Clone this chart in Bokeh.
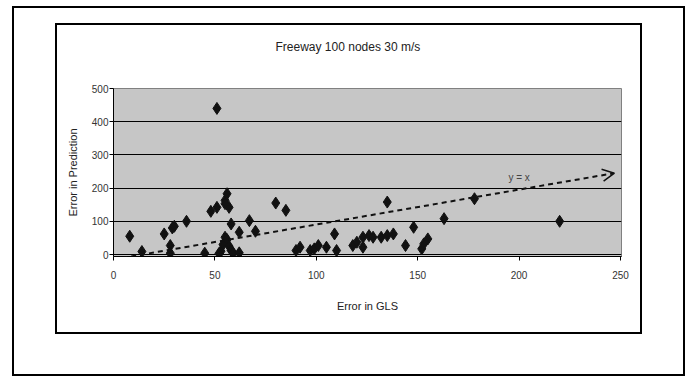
from bokeh.plotting import figure
from bokeh.models import Range1d, Label, Arrow, OpenHead, FixedTicker, ColumnDataSource, InlineStyleSheet
from bokeh.embed import file_html
from bokeh.resources import INLINE

# ---- data ----
err_gls = [8, 14, 25, 29, 30, 28, 28, 36, 51, 45, 48, 51, 55, 56, 57, 55,
           58, 62, 55, 53, 54, 56, 57, 58, 59, 52, 62, 67, 70, 80, 85, 90,
           92, 97, 99, 101, 105, 109, 110, 118, 120, 123, 123, 126, 128, 132, 135, 135,
           138, 144, 148, 152, 153, 155, 163, 178, 220]
err_pred = [55, 9, 62, 80, 85, 27, 4, 100, 440, 4, 130, 142, 163, 183, 142, 153,
            92, 67, 52, 10, 30, 45, 25, 12, 5, 3, 5, 102, 70, 155, 133, 12,
            22, 12, 17, 27, 22, 62, 12, 27, 37, 52, 22, 57, 52, 52, 158, 57,
            62, 27, 82, 17, 32, 47, 108, 168, 100]
ref_x = [0, 247]
ref_y = [-15, 245]
x_ticks = [0, 50, 100, 150, 200, 250]
y_ticks = [0, 100, 200, 300, 400, 500]

W, H = 685, 376
FL, FT, FW, FH = 113, 88, 508, 168   # frame in figure px
XR = (0, 250.5)
YR = (-6, 500)

FONT = "Liberation Sans"

boxes_css = """
:host { position: relative; }
:host::before {
  content: ""; position: absolute; pointer-events: none; z-index: 10;
  left: 12px; top: 6px; width: 669px; height: 366px;
  border: 2px solid black;
}
:host::after {
  content: ""; position: absolute; pointer-events: none; z-index: 10;
  left: 55px; top: 23px; width: 583px; height: 307px;
  border: 2px solid black;
}
"""

p = figure(width=W, height=H, output_backend="svg", toolbar_location=None,
           x_range=Range1d(*XR), y_range=Range1d(*YR),
           min_border_left=FL, min_border_top=FT,
           min_border_right=W - FL - FW, min_border_bottom=H - FT - FH,
           stylesheets=[InlineStyleSheet(css=boxes_css)])
p.background_fill_color = "#c6c6c6"
p.border_fill_color = "white"
p.outline_line_color = "#808080"
p.outline_line_width = 1

p.title.text = "Freeway 100 nodes 30 m/s"
p.title.align = "left"
p.title.offset = 162
p.title.standoff = 70
p.title.text_font = FONT
p.title.text_font_size = "12px"
p.title.text_font_style = "normal"
p.title.text_color = "#222222"

p.xgrid.visible = False
p.ygrid.ticker = FixedTicker(ticks=y_ticks)
p.ygrid.grid_line_color = "black"
p.ygrid.grid_line_width = 1

for ax, ticks in ((p.xaxis[0], x_ticks), (p.yaxis[0], y_ticks)):
    ax.ticker = FixedTicker(ticks=ticks)
    ax.axis_line_color = "black"
    ax.major_tick_line_color = "black"
    ax.major_tick_out = 4
    ax.major_tick_in = 0
    ax.minor_tick_line_color = None
    ax.major_label_text_font = FONT
    ax.major_label_text_font_size = "10px"
    ax.major_label_text_color = "#333333"
    ax.axis_label_text_font = FONT
    ax.axis_label_text_font_size = "11px"
    ax.axis_label_text_font_style = "normal"
    ax.axis_label_text_color = "#222222"

p.xaxis.axis_label = "Error in GLS"
p.yaxis.axis_label = "Error in Prediction"
p.xaxis.major_label_standoff = 10
p.xaxis.axis_label_standoff = 18
p.yaxis.major_label_standoff = 1
p.yaxis.axis_label_standoff = 10

src = ColumnDataSource(dict(x=err_gls, y=err_pred))
p.scatter("x", "y", source=src, marker="diamond", size=12,
          fill_color="#111111", line_color="#111111")

p.add_layout(Arrow(end=OpenHead(size=12, line_width=1.5, line_color="#111111"),
                   x_start=ref_x[0], y_start=ref_y[0], x_end=ref_x[1], y_end=ref_y[1],
                   line_color="#111111", line_width=2, line_dash="5 4"))
p.add_layout(Label(x=200, y=232, text="y = x", text_font=FONT, text_font_size="10px",
                   text_color="#444444", text_align="center", text_baseline="middle"))

open("out.html", "w").write(file_html(p, INLINE))
